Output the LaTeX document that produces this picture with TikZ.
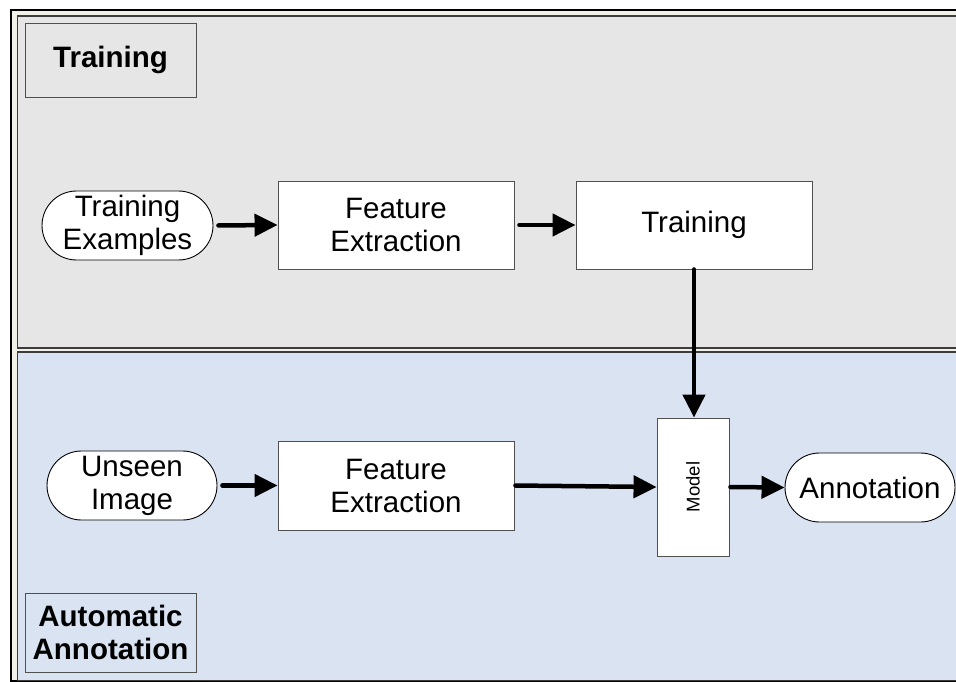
\documentclass[tikz,border=0pt]{standalone}
\usepackage{fontspec}
\setmainfont{Liberation Sans}
\usetikzlibrary{shapes.misc,arrows.meta}
\definecolor{trainbg}{HTML}{E6E6E6}
\definecolor{annobg}{HTML}{DAE3F2}
\definecolor{framebg}{HTML}{F1F1EA}
\definecolor{panelline}{HTML}{3C3C3C}
\definecolor{boxline}{HTML}{505050}
\tikzset{
  procbox/.style={draw=boxline, line width=0.9pt, fill=white, inner sep=0pt,
    align=center, font=\fontsize{29.5}{33}\selectfont},
  termbox/.style={rounded rectangle, draw=black, line width=0.9pt, fill=white,
    inner sep=0pt, align=center, font=\fontsize{29.5}{33}\selectfont},
  phaselabel/.style={draw=boxline, line width=0.9pt, inner sep=0pt,
    align=center, font=\bfseries\fontsize{29.5}{33}\selectfont},
  flow/.style={line width=4.5pt, line cap=round,
    -{Triangle[length=23pt, width=22pt]}},
}
\begin{document}
\begin{tikzpicture}[x=1pt, y=-1pt]
  \useasboundingbox (0,0) rectangle (956,682);
  % outer frame and the two phase panels
  \draw[black, line width=1.5pt, fill=framebg] (11,10) rectangle (966,681);
  \draw[panelline, line width=1.5pt, fill=trainbg] (17.5,16) rectangle (966,348);
  \draw[panelline, line width=1.5pt, fill=annobg] (17.5,352) rectangle (966,680.5);

  % phase labels
  \node[phaselabel, fill=trainbg, minimum width=171pt, minimum height=74pt]
    (lbltrain) at (110.5,60) {Training};
  \node[phaselabel, fill=annobg, minimum width=171pt, minimum height=79pt]
    (lblanno) at (110.5,632.5) {Automatic\\Annotation};

  % training pipeline
  \node[termbox, minimum width=171pt, minimum height=69pt]
    (examples) at (127.5,225.5) {Training\\Examples};
  \node[procbox, minimum width=236pt, minimum height=88pt]
    (fetrain) at (396,225) {Feature\\Extraction};
  \node[procbox, minimum width=236pt, minimum height=88pt]
    (train) at (694,225) {Training};

  % annotation pipeline
  \node[termbox, minimum width=170pt, minimum height=69pt]
    (unseen) at (132,485.5) {Unseen\\Image};
  \node[procbox, minimum width=236pt, minimum height=89pt]
    (feanno) at (396,485.5) {Feature\\Extraction};
  \node[procbox, minimum width=72pt, minimum height=138pt]
    (model) at (693,487) {};
  \node[rotate=90, font=\fontsize{18.5}{22}\selectfont, inner sep=0pt]
    (modeltext) at (model.center) {Model};
  \node[termbox, minimum width=170pt, minimum height=69pt]
    (annot) at (870,487.5) {Annotation};

  % connectors
  \draw[flow, shorten <=5pt] (examples.east) -- (fetrain.west);
  \draw[flow, shorten <=5pt] (fetrain.east) -- (train.west);
  \draw[flow] (train.south) -- (train.south |- model.north);
  \draw[flow, shorten <=5pt] (unseen.east) -- (feanno.west);
  \draw[flow, shorten <=1pt] (feanno.east) -- (model.west);
  \draw[flow, shorten <=1pt] (model.east) -- (annot.west);
\end{tikzpicture}
\end{document}
